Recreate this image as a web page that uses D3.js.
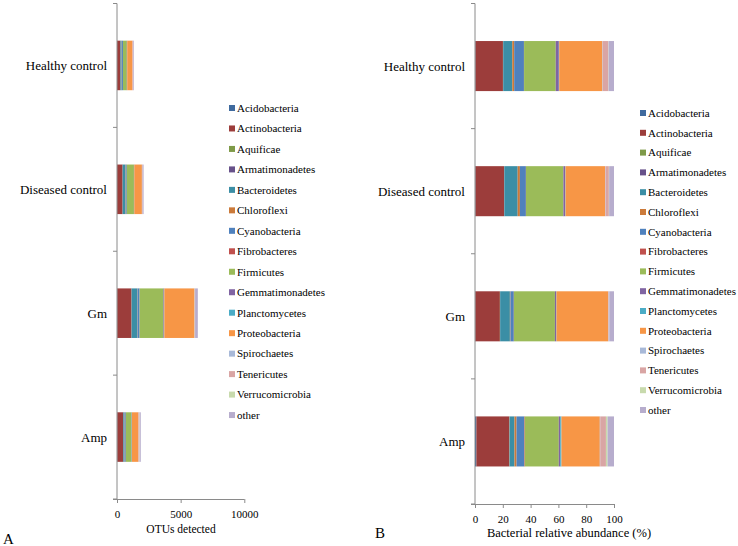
<!DOCTYPE html>
<html><head><meta charset="utf-8">
<script src="https://cdn.jsdelivr.net/npm/d3@7"></script>
<style>
html,body{margin:0;padding:0;background:#fff;}
svg{display:block;font-family:"Liberation Serif","Times New Roman",serif;}
</style></head>
<body><svg id="c" width="738" height="546"></svg>
<script>
const categories = ["Healthy control","Diseased control","Gm","Amp"];
const phyla = ["Acidobacteria","Actinobacteria","Aquificae","Armatimonadetes","Bacteroidetes","Chloroflexi","Cyanobacteria","Fibrobacteres","Firmicutes","Gemmatimonadetes","Planctomycetes","Proteobacteria","Spirochaetes","Tenericutes","Verrucomicrobia","other"];
const colors = ["#3F6A9E","#9C3D3B","#7E9A48","#67518A","#3B8EA5","#CB7A3A","#4F81BD","#C0504D","#9BBB59","#8064A2","#4BACC6","#F79646","#A8B9D8","#D9A5A4","#C8DAAD","#B7ADCD"];

// Panel A: OTUs detected (per phylum, same order as phyla)
const otusHealthy  = [4,263,1,1,86,19,93,1,303,29,4,412,4,53,3,52];
const otusDiseased = [6,431,2,2,201,33,90,2,562,25,6,596,6,50,4,73];
const otusGm       = [13,1124,6,6,445,25,152,6,1873,51,19,2362,19,19,13,216];
const otusAmp      = [18,470,5,4,62,27,101,7,448,18,16,505,5,75,22,84];

// Panel B: relative abundance (%)
const pctHealthy  = [0.3,19.8,0.1,0.1,6.5,1.4,7.0,0.1,22.8,2.2,0.3,31.0,0.3,4.0,0.2,3.9];
const pctDiseased = [0.3,20.6,0.1,0.1,9.6,1.6,4.3,0.1,26.9,1.2,0.3,28.5,0.3,2.4,0.2,3.5];
const pctGm       = [0.2,17.7,0.1,0.1,7.0,0.4,2.4,0.1,29.5,0.8,0.3,37.2,0.3,0.3,0.2,3.4];
const pctAmp      = [1.0,23.5,0.3,0.2,3.4,1.5,5.5,0.4,24.5,1.0,0.9,27.6,0.3,4.1,1.2,4.6];

const ticksA = [0,5000,10000];
const ticksB = [0,20,40,60,80,100];

const svg = d3.select("#c");
const axisColor = "#8a8a8a";

function rows(arrs){
  return categories.map((c,i)=>{
    const o={cat:c};
    phyla.forEach((p,j)=>o[p]=arrs[i][j]);
    return o;
  });
}

function panel(cfg){
  const g = svg.append("g");
  const y = d3.scaleBand().domain(categories).range([cfg.top,cfg.bottom]).paddingInner(0.6).paddingOuter(0.3);
  const x = d3.scaleLinear().domain(cfg.domain).range([cfg.left,cfg.right]);
  const stack = d3.stack().keys(phyla)(rows(cfg.data));
  stack.forEach((layer,li)=>{
    g.selectAll(null).data(layer).enter().append("rect")
      .attr("x",d=>x(d[0])).attr("width",d=>Math.max(0,x(d[1])-x(d[0])))
      .attr("y",d=>y(d.data.cat)).attr("height",y.bandwidth())
      .attr("fill",colors[li]);
  });
  // y axis line and ticks at category boundaries
  g.append("line").attr("x1",cfg.left).attr("x2",cfg.left).attr("y1",cfg.top).attr("y2",cfg.bottom)
    .attr("stroke",axisColor);
  const step = y.step();
  for(let i=0;i<=categories.length;i++){
    const yy = cfg.top + i*step;
    g.append("line").attr("x1",cfg.left-4).attr("x2",cfg.left).attr("y1",yy).attr("y2",yy).attr("stroke",axisColor);
  }
  categories.forEach(c=>{
    g.append("text").attr("x",cfg.left-10).attr("y",y(c)+y.bandwidth()/2).attr("dy","0.35em")
      .attr("text-anchor","end").attr("font-size",13).text(c);
  });
  // x axis
  const xa = d3.axisBottom(x).tickValues(cfg.ticks).tickSize(4).tickSizeOuter(0).tickFormat(d3.format("d"));
  const ax = g.append("g").attr("transform",`translate(0,${cfg.bottom})`).call(xa);
  ax.select(".domain").attr("stroke",axisColor).attr("d",`M${cfg.left-4},0.5H${cfg.right}`);
  ax.selectAll(".tick line").attr("stroke",axisColor);
  ax.selectAll(".tick text").attr("font-size",11).attr("font-family","Liberation Serif").attr("fill","#000").attr("dy","1.1em");
  g.append("text").attr("x",cfg.titleX).attr("y",cfg.titleY).attr("text-anchor","middle")
    .attr("font-size",cfg.titleSize).text(cfg.title);
  // legend
  const lg = g.append("g");
  phyla.forEach((p,i)=>{
    const yy = cfg.legY + i*cfg.legStep;
    lg.append("rect").attr("x",cfg.legX).attr("y",yy-3).attr("width",6).attr("height",6).attr("fill",colors[i]);
    lg.append("text").attr("x",cfg.legX+8).attr("y",yy).attr("dy","0.35em").attr("font-size",11).text(p);
  });
  g.append("text").attr("x",cfg.letterX).attr("y",cfg.letterY).attr("font-size",15).text(cfg.letter);
}

panel({data:[otusHealthy,otusDiseased,otusGm,otusAmp], domain:[0,10000], ticks:ticksA,
  left:117, right:244.3, top:3.5, bottom:499, title:"OTUs detected", titleX:181, titleY:533, titleSize:11.5,
  legX:229, legY:108, legStep:20.47, letter:"A", letterX:3, letterY:544});
panel({data:[pctHealthy,pctDiseased,pctGm,pctAmp], domain:[0,100], ticks:ticksB,
  left:475, right:614, top:3.5, bottom:504, title:"Bacterial relative abundance (%)", titleX:569, titleY:537, titleSize:12.5,
  legX:640, legY:113, legStep:19.8, letter:"B", letterX:375, letterY:538});
</script></body></html>
